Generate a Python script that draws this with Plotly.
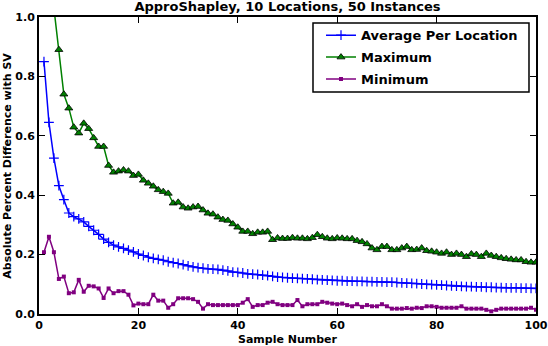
import plotly.graph_objects as go

# sample numbers 1..100
samples = list(range(1, 101))

avg_per_location = [
    0.850, 0.645, 0.525, 0.432, 0.385, 0.340, 0.328, 0.320, 0.310, 0.295,
    0.282, 0.268, 0.252, 0.241, 0.232, 0.226, 0.221, 0.215, 0.209, 0.202,
    0.197, 0.191, 0.187, 0.184, 0.181, 0.176, 0.173, 0.170, 0.166, 0.162,
    0.159, 0.156, 0.154, 0.152, 0.151, 0.150, 0.148, 0.145, 0.141, 0.140,
    0.138, 0.135, 0.134, 0.133, 0.131, 0.129, 0.127, 0.124, 0.123, 0.122,
    0.121, 0.120, 0.119, 0.118, 0.117, 0.116, 0.115, 0.114, 0.113, 0.112,
    0.112, 0.111, 0.111, 0.110, 0.110, 0.109, 0.109, 0.108, 0.108, 0.107,
    0.107, 0.106, 0.105, 0.104, 0.103, 0.102, 0.101, 0.100, 0.099, 0.098,
    0.097, 0.096, 0.095, 0.094, 0.093, 0.092, 0.092, 0.091, 0.091, 0.090,
    0.090, 0.089, 0.089, 0.088, 0.088, 0.088, 0.087, 0.087, 0.086, 0.086,
]

maximum = [
    1.600, 1.250, 1.030, 0.890, 0.740, 0.693, 0.629, 0.609, 0.642, 0.624,
    0.593, 0.564, 0.564, 0.500, 0.477, 0.481, 0.485, 0.481, 0.466, 0.470,
    0.450, 0.440, 0.430, 0.418, 0.412, 0.406, 0.373, 0.376, 0.360, 0.356,
    0.360, 0.362, 0.350, 0.339, 0.336, 0.326, 0.318, 0.315, 0.303, 0.292,
    0.278, 0.278, 0.270, 0.275, 0.275, 0.278, 0.250, 0.256, 0.254, 0.254,
    0.257, 0.255, 0.255, 0.253, 0.257, 0.267, 0.260, 0.255, 0.253, 0.256,
    0.255, 0.253, 0.253, 0.247, 0.243, 0.236, 0.222, 0.216, 0.227, 0.227,
    0.216, 0.216, 0.222, 0.227, 0.216, 0.217, 0.222, 0.213, 0.211, 0.208,
    0.204, 0.208, 0.200, 0.204, 0.200, 0.193, 0.202, 0.200, 0.193, 0.204,
    0.197, 0.193, 0.189, 0.186, 0.184, 0.182, 0.182, 0.176, 0.174, 0.174,
]

minimum = [
    0.208, 0.260, 0.208, 0.118, 0.126, 0.070, 0.073, 0.115, 0.075, 0.095,
    0.093, 0.086, 0.054, 0.086, 0.070, 0.077, 0.077, 0.065, 0.029, 0.035,
    0.033, 0.033, 0.065, 0.045, 0.045, 0.021, 0.033, 0.053, 0.053, 0.053,
    0.050, 0.041, 0.018, 0.033, 0.030, 0.030, 0.030, 0.030, 0.030, 0.030,
    0.038, 0.050, 0.024, 0.030, 0.030, 0.038, 0.041, 0.033, 0.030, 0.030,
    0.030, 0.047, 0.026, 0.033, 0.033, 0.033, 0.041, 0.038, 0.035, 0.033,
    0.035, 0.030, 0.026, 0.033, 0.024, 0.030, 0.026, 0.026, 0.033, 0.026,
    0.018, 0.018, 0.018, 0.020, 0.018, 0.021, 0.020, 0.026, 0.026, 0.024,
    0.021, 0.021, 0.021, 0.021, 0.026, 0.018, 0.018, 0.018, 0.018, 0.014,
    0.009, 0.014, 0.018, 0.018, 0.018, 0.018, 0.018, 0.018, 0.021, 0.014,
]

x_ticks = [0, 20, 40, 60, 80, 100]
y_ticks = [0.0, 0.2, 0.4, 0.6, 0.8, 1.0]

small = dict(family="DejaVu Sans", size=11, color="black", weight="bold")
big = dict(family="DejaVu Sans", size=13, color="black", weight="bold")

fig = go.Figure()
fig.add_trace(go.Scatter(
    x=samples, y=avg_per_location, mode="lines+markers",
    name="Average Per Location", legendgroup="a",
    line=dict(color="#0000ff", width=1.5),
    marker=dict(symbol="cross-thin", size=7, line=dict(color="#0000ff", width=1.2)),
))
fig.add_trace(go.Scatter(
    x=samples, y=maximum, mode="lines+markers",
    name="Maximum", legendgroup="b",
    line=dict(color="#008000", width=1.5),
    marker=dict(symbol="triangle-up", size=7, color="#008000", line=dict(color="black", width=0.8)),
))
fig.add_trace(go.Scatter(
    x=samples, y=minimum, mode="lines+markers",
    name="Minimum", legendgroup="c",
    line=dict(color="#800080", width=1.5),
    marker=dict(symbol="square", size=4, color="#800080"),
))

axis_style = dict(
    showgrid=False, zeroline=False, showline=True, linecolor="black", linewidth=2,
    mirror="ticks", ticks="inside", ticklen=6, tickcolor="black", tickwidth=1,
    tickfont=small, automargin=False,
)

fig.update_layout(
    width=548, height=346,
    margin=dict(l=39, r=12, t=17, b=32),
    plot_bgcolor="white", paper_bgcolor="white",
    font=small,
    title=dict(text="ApproShapley, 10 Locations, 50 Instances", xref="paper", x=0.5,
               xanchor="center", yref="container", y=0.98, yanchor="middle", font=big),
    showlegend=True,
    legend=dict(x=0.5674, y=0.989, xanchor="left", yanchor="top",
                borderwidth=0, bgcolor="rgba(0,0,0,0)",
                font=big, tracegroupgap=2, itemwidth=30),
)
fig.update_xaxes(axis_style, range=[0, 100], tickvals=x_ticks)
fig.update_yaxes(axis_style, range=[0, 1.0], tickvals=y_ticks, tickformat=".1f")

# legend frame drawn as a box so it can be tighter than plotly's own
fig.add_shape(type="rect", xref="paper", yref="paper", x0=0.5513, x1=0.9859, y0=0.7475, y1=0.9798,
              line=dict(color="black", width=1.5), fillcolor="white", layer="above")

# axis titles placed as annotations so the plot area stays fixed
fig.add_annotation(text="Sample Number", xref="paper", yref="paper", x=0.5, y=-0.087,
                   xanchor="center", yanchor="middle", showarrow=False, font=small)
fig.add_annotation(text="Absolute Percent Difference with SV", xref="paper", yref="paper",
                   x=-0.064, y=0.5, xanchor="center", yanchor="middle", textangle=-90,
                   showarrow=False, font=small)

# drop the default page margin so the figure sits at the window corner
fig.write_html("out.html", config={"displayModeBar": False},
               post_script="document.body.style.margin='0';")
